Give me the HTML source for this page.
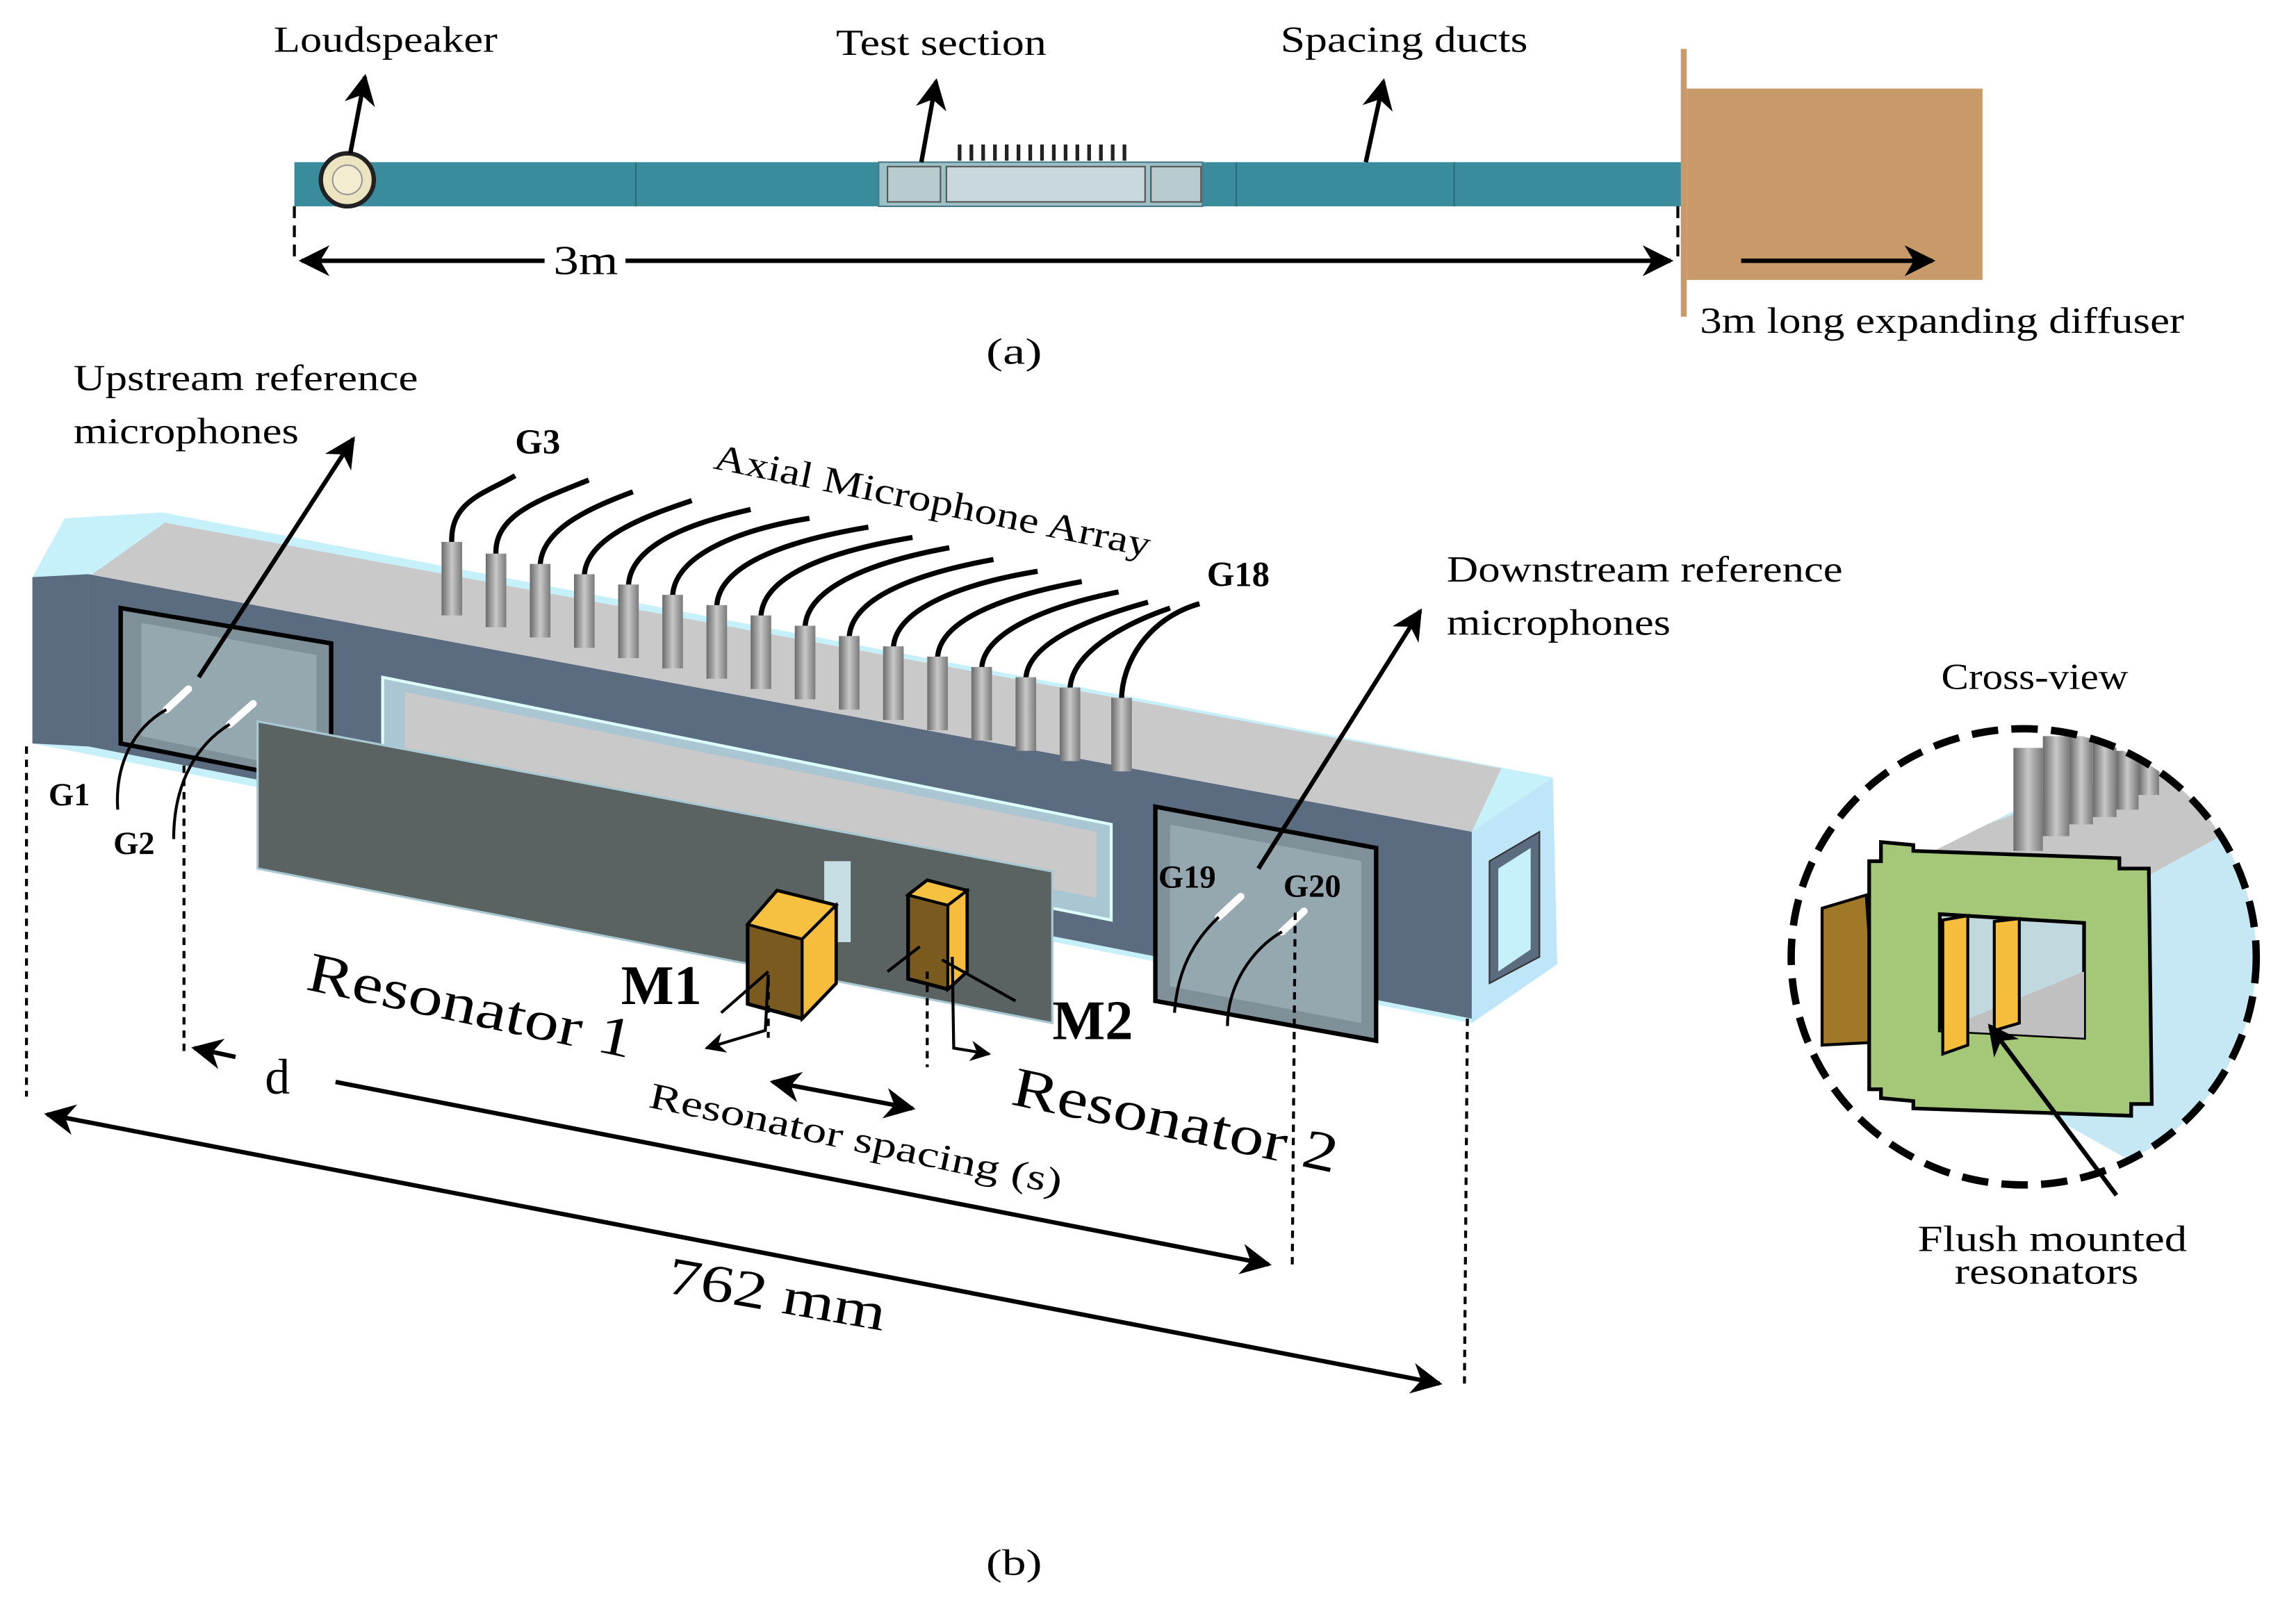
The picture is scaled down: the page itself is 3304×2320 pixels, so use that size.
<!DOCTYPE html>
<html><head><meta charset="utf-8"><style>
html,body{margin:0;padding:0;background:#fff;}
svg{display:block;}
text{font-family:"Liberation Serif",serif;fill:#000;}
</style></head><body>
<svg width="3304" height="2320" viewBox="0 0 1560 1095" xmlns="http://www.w3.org/2000/svg">
<defs>
<marker id="ah" viewBox="0 0 10 10" refX="9" refY="5" markerWidth="7" markerHeight="7" orient="auto-start-reverse"><path d="M0,0 L10,5 L0,10 L3,5 z" fill="#000"/></marker>
<linearGradient id="cyl" x1="0" x2="1"><stop offset="0" stop-color="#6a6a6a"/><stop offset="0.5" stop-color="#c8c8c8"/><stop offset="1" stop-color="#7a7a7a"/></linearGradient>
</defs>
<rect width="1560" height="1095" fill="#fff"/>

<!-- (a) top duct -->
<rect x="200" y="110" width="943" height="30" fill="#3a8c9c"/>
<line x1="432" y1="110" x2="432" y2="140" stroke="#2a6a78"/>
<line x1="840" y1="110" x2="840" y2="140" stroke="#2a6a78"/>
<line x1="988" y1="110" x2="988" y2="140" stroke="#2a6a78"/>
<rect x="597" y="110" width="220" height="30" fill="#9cc2c8" stroke="#4a7a88"/>
<rect x="603" y="113" width="36" height="24" fill="#b8ccd0" stroke="#555"/>
<rect x="643" y="113" width="135" height="24" fill="#c8d8dc" stroke="#555"/>
<rect x="782" y="113" width="34" height="24" fill="#b8ccd0" stroke="#555"/>
<g stroke="#222" stroke-width="2.5">
<line x1="652" y1="98" x2="652" y2="109"/><line x1="660" y1="98" x2="660" y2="109"/><line x1="668" y1="98" x2="668" y2="109"/><line x1="676" y1="98" x2="676" y2="109"/><line x1="684" y1="98" x2="684" y2="109"/><line x1="692" y1="98" x2="692" y2="109"/><line x1="700" y1="98" x2="700" y2="109"/><line x1="708" y1="98" x2="708" y2="109"/><line x1="716" y1="98" x2="716" y2="109"/><line x1="724" y1="98" x2="724" y2="109"/><line x1="732" y1="98" x2="732" y2="109"/><line x1="740" y1="98" x2="740" y2="109"/><line x1="748" y1="98" x2="748" y2="109"/><line x1="756" y1="98" x2="756" y2="109"/><line x1="764" y1="98" x2="764" y2="109"/>
</g>
<circle cx="236" cy="122" r="18" fill="#ece4c0" stroke="#222" stroke-width="3"/>
<circle cx="236" cy="122" r="10" fill="#f4ecd0" stroke="#999"/>
<rect x="1146" y="60" width="201" height="130" fill="#c89a6a"/>
<line x1="1144" y1="33" x2="1144" y2="215" stroke="#c89a6a" stroke-width="4"/>
<line x1="238" y1="104" x2="248" y2="52" stroke="#000" stroke-width="3" marker-end="url(#ah)"/>
<line x1="626" y1="110" x2="636" y2="55" stroke="#000" stroke-width="3" marker-end="url(#ah)"/>
<line x1="928" y1="110" x2="940" y2="55" stroke="#000" stroke-width="3" marker-end="url(#ah)"/>
<line x1="200" y1="140" x2="200" y2="178" stroke="#000" stroke-width="2" stroke-dasharray="8,5"/>
<line x1="1140" y1="140" x2="1140" y2="178" stroke="#000" stroke-width="2" stroke-dasharray="8,5"/>
<line x1="205" y1="177" x2="370" y2="177" stroke="#000" stroke-width="3" marker-start="url(#ah)"/>
<line x1="425" y1="177" x2="1135" y2="177" stroke="#000" stroke-width="3" marker-end="url(#ah)"/>
<line x1="1183" y1="177" x2="1313" y2="177" stroke="#000" stroke-width="3" marker-end="url(#ah)"/>
<text x="186" y="35" font-size="25" textLength="152" lengthAdjust="spacingAndGlyphs">Loudspeaker</text>
<text x="568" y="37" font-size="25" textLength="143" lengthAdjust="spacingAndGlyphs">Test section</text>
<text x="870" y="35" font-size="25" textLength="168" lengthAdjust="spacingAndGlyphs">Spacing ducts</text>
<text x="376" y="186" font-size="28" textLength="44" lengthAdjust="spacingAndGlyphs">3m</text>
<text x="1155" y="226" font-size="25" textLength="329" lengthAdjust="spacingAndGlyphs">3m long expanding diffuser</text>
<text x="670" y="247" font-size="25" textLength="38" lengthAdjust="spacingAndGlyphs">(a)</text>

<!-- (b) box -->
<polygon points="22,392 44,352 110,348 1055,528 1058,655 1000,695 22,505" fill="#c6f0fa"/>
<polygon points="60,392 112,355 1020,522 1000,565" fill="#c9c9c9"/>
<polygon points="60,390 1000,565 1000,692 60,507" fill="#5b6b80"/>
<polygon points="22,392 60,390 60,507 22,505" fill="#5b6b80"/>
<polygon points="1000,565 1055,528 1058,655 1000,695" fill="#bfe6f8"/>
<polygon points="1012,585 1046,565 1046,650 1012,668" fill="#5b6b80" stroke="#333"/>
<polygon points="1018,590 1040,576 1040,645 1018,660" fill="#c6f0fa"/>
<polygon points="82,413 225,437 225,533 82,505" fill="#7f9098" stroke="#000" stroke-width="3"/>
<polygon points="96,423 215,445 215,525 96,500" fill="#95a8b0"/>
<polygon points="260,460 755,560 755,625 260,525" fill="#a9c6d2" stroke="#dff" stroke-width="2"/>
<polygon points="275,470 745,565 745,610 275,515" fill="#c9c9c9"/>
<polygon points="785,548 935,576 935,707 785,680" fill="#7f9098" stroke="#000" stroke-width="3"/>
<polygon points="795,560 925,585 925,695 795,670" fill="#95a8b0"/>
<polygon points="175,490 715,592 715,695 175,590" fill="#5a6262" stroke="#a9c9d2" stroke-width="1.5"/>
<rect x="560" y="585" width="18" height="55" fill="#c6dde4"/>
<polygon points="508,628 528,605 568,615 568,668 545,692 508,682" fill="#7a5a1e" stroke="#000" stroke-width="2.5"/>
<polygon points="528,605 568,615 545,638 508,628" fill="#f6c040" stroke="#000" stroke-width="2"/>
<polygon points="545,638 568,615 568,668 545,692" fill="#f6bc3c" stroke="#000" stroke-width="2"/>
<polygon points="617,608 630,598 657,605 657,660 644,672 617,665" fill="#7a5a1e" stroke="#000" stroke-width="2.5"/>
<polygon points="630,598 657,605 644,615 617,608" fill="#f6c040" stroke="#000" stroke-width="2"/>
<polygon points="644,615 657,605 657,660 644,672" fill="#f6bc3c" stroke="#000" stroke-width="2"/>
<g stroke="#fff" stroke-width="5" stroke-linecap="round">
<line x1="113" y1="482" x2="128" y2="468"/><line x1="156" y1="492" x2="172" y2="478"/>
<line x1="828" y1="623" x2="843" y2="609"/><line x1="871" y1="633" x2="886" y2="619"/>
</g>
<g fill="none" stroke="#000" stroke-width="3.5">
<path d="M307,370 C305,340 330,335 350,323"/>
<path d="M337,378 C335,350 365,340 400,326"/>
<path d="M367,385 C367,360 400,345 430,334"/>
<path d="M397,392 C397,365 440,350 470,340"/>
<path d="M427,399 C427,370 470,355 510,346"/>
<path d="M457,406 C457,378 500,360 550,352"/>
<path d="M487,413 C487,385 530,368 590,358"/>
<path d="M517,420 C517,392 560,375 620,365"/>
<path d="M547,427 C547,400 590,382 645,372"/>
<path d="M577,434 C577,407 620,390 675,380"/>
<path d="M607,441 C607,415 650,397 705,388"/>
<path d="M637,448 C637,422 680,405 735,395"/>
<path d="M667,455 C667,430 710,412 760,402"/>
<path d="M697,462 C697,437 740,420 780,409"/>
<path d="M727,469 C727,445 760,425 795,413"/>
<path d="M762,476 C762,450 780,420 815,410"/>
</g>
<g fill="url(#cyl)">
<rect x="300" y="368" width="14" height="50"/><rect x="330" y="376" width="14" height="50"/><rect x="360" y="383" width="14" height="50"/><rect x="390" y="390" width="14" height="50"/><rect x="420" y="397" width="14" height="50"/><rect x="450" y="404" width="14" height="50"/><rect x="480" y="411" width="14" height="50"/><rect x="510" y="418" width="14" height="50"/><rect x="540" y="425" width="14" height="50"/><rect x="570" y="432" width="14" height="50"/><rect x="600" y="439" width="14" height="50"/><rect x="630" y="446" width="14" height="50"/><rect x="660" y="453" width="14" height="50"/><rect x="690" y="460" width="14" height="50"/><rect x="720" y="467" width="14" height="50"/><rect x="755" y="474" width="14" height="50"/>
</g>
<line x1="135" y1="460" x2="240" y2="298" stroke="#000" stroke-width="3" marker-end="url(#ah)"/>
<line x1="855" y1="590" x2="965" y2="415" stroke="#000" stroke-width="3" marker-end="url(#ah)"/>
<g fill="none" stroke="#000" stroke-width="2">
<path d="M80,550 C78,520 90,495 113,482"/>
<path d="M118,570 C118,530 135,505 156,492"/>
<path d="M798,688 C800,660 810,640 828,623"/>
<path d="M834,697 C834,670 850,645 871,633"/>
<line x1="490" y1="688" x2="522" y2="660"/>
<line x1="690" y1="680" x2="640" y2="652"/>
<line x1="603" y1="660" x2="625" y2="643"/>
</g>
<path d="M522,662 L520,700 L480,712" fill="none" stroke="#000" stroke-width="2" marker-end="url(#ah)"/>
<path d="M647,650 L648,712 L672,716" fill="none" stroke="#000" stroke-width="2" marker-end="url(#ah)"/>
<g stroke="#000" stroke-width="2" stroke-dasharray="5,4">
<line x1="18" y1="507" x2="18" y2="745"/>
<line x1="125" y1="520" x2="125" y2="717"/>
<line x1="522" y1="665" x2="522" y2="705"/>
<line x1="630" y1="660" x2="630" y2="725"/>
<line x1="880" y1="620" x2="878" y2="862"/>
<line x1="997" y1="692" x2="995" y2="940"/>
</g>
<line x1="160" y1="718" x2="132" y2="712" stroke="#000" stroke-width="3" marker-end="url(#ah)"/>
<line x1="228" y1="735" x2="862" y2="859" stroke="#000" stroke-width="3" marker-end="url(#ah)"/>
<line x1="525" y1="735" x2="620" y2="753" stroke="#000" stroke-width="3" marker-start="url(#ah)" marker-end="url(#ah)"/>
<line x1="32" y1="757" x2="978" y2="940" stroke="#000" stroke-width="3" marker-start="url(#ah)" marker-end="url(#ah)"/>

<text x="50" y="265" font-size="25" textLength="234" lengthAdjust="spacingAndGlyphs">Upstream reference</text>
<text x="50" y="301" font-size="25" textLength="153" lengthAdjust="spacingAndGlyphs">microphones</text>
<text x="350" y="308" font-size="24" font-weight="bold">G3</text>
<text x="484" y="318" font-size="25" transform="rotate(11.5 484 318)" textLength="302" lengthAdjust="spacingAndGlyphs">Axial Microphone Array</text>
<text x="820" y="398" font-size="24" font-weight="bold">G18</text>
<text x="983" y="395" font-size="25" textLength="269" lengthAdjust="spacingAndGlyphs">Downstream reference</text>
<text x="983" y="431" font-size="25" textLength="152" lengthAdjust="spacingAndGlyphs">microphones</text>
<text x="33" y="547" font-size="22" font-weight="bold">G1</text>
<text x="77" y="580" font-size="22" font-weight="bold">G2</text>
<text x="787" y="603" font-size="22" font-weight="bold">G19</text>
<text x="872" y="609" font-size="22" font-weight="bold">G20</text>
<text x="207" y="672" font-size="38" transform="rotate(12 207 672)" textLength="225" lengthAdjust="spacingAndGlyphs">Resonator 1</text>
<text x="422" y="682" font-size="38" font-weight="bold">M1</text>
<text x="715" y="706" font-size="38" font-weight="bold">M2</text>
<text x="686" y="750" font-size="38" transform="rotate(12 686 750)" textLength="225" lengthAdjust="spacingAndGlyphs">Resonator 2</text>
<text x="180" y="743" font-size="34">d</text>
<text x="440" y="752" font-size="25" transform="rotate(12 440 752)" textLength="286" lengthAdjust="spacingAndGlyphs">Resonator spacing (s)</text>
<text x="452" y="878" font-size="36" transform="rotate(10 452 878)" textLength="150" lengthAdjust="spacingAndGlyphs">762 mm</text>
<text x="670" y="1070" font-size="25" textLength="38" lengthAdjust="spacingAndGlyphs">(b)</text>

<clipPath id="cc"><ellipse cx="1375" cy="650" rx="158" ry="155"/></clipPath>
<g clip-path="url(#cc)">
<polygon points="1290,590 1390,540 1540,540 1540,780 1450,790 1290,700" fill="#c6e8f4"/>
<polygon points="1290,590 1350,560 1500,505 1560,540 1450,600" fill="#c6c6c6"/>
<rect x="1368" y="508" width="20" height="70" fill="url(#cyl)"/>
<rect x="1388" y="500" width="18" height="68" fill="url(#cyl)"/>
<rect x="1406" y="500" width="16" height="60" fill="url(#cyl)"/>
<rect x="1422" y="505" width="16" height="50" fill="url(#cyl)"/>
<rect x="1438" y="510" width="15" height="40" fill="url(#cyl)"/>
<rect x="1453" y="515" width="14" height="25" fill="url(#cyl)"/>
<polygon points="1238,617 1268,608 1275,708 1238,710" fill="#a07828" stroke="#000" stroke-width="2"/>
<polygon points="1278,572 1300,574 1300,578 1440,583 1440,590 1460,590 1462,750 1448,750 1448,758 1300,753 1300,748 1278,746 1278,740 1270,740 1270,585 1278,585" fill="#a4c878" stroke="#000" stroke-width="2.5"/>
<polygon points="1318,621 1416,627 1416,705 1318,700" fill="#c0d8de" stroke="#000" stroke-width="2.5"/>
<polygon points="1318,700 1416,660 1416,705" fill="#c0c0c0"/>
<polygon points="1320,625 1337,622 1337,710 1320,716" fill="#f6bc3c" stroke="#000" stroke-width="2"/>
<polygon points="1355,626 1372,624 1372,695 1355,700" fill="#f6bc3c" stroke="#000" stroke-width="2"/>
</g>
<ellipse cx="1375" cy="650" rx="158" ry="155" fill="none" stroke="#000" stroke-width="5" stroke-dasharray="18,9"/>
<line x1="1438" y1="812" x2="1352" y2="697" stroke="#000" stroke-width="3" marker-end="url(#ah)"/>
<text x="1319" y="468" font-size="25" textLength="127" lengthAdjust="spacingAndGlyphs">Cross-view</text>
<text x="1303" y="850" font-size="25" textLength="183" lengthAdjust="spacingAndGlyphs">Flush mounted</text>
<text x="1328" y="872" font-size="25" textLength="125" lengthAdjust="spacingAndGlyphs">resonators</text>
</svg>
</body></html>
